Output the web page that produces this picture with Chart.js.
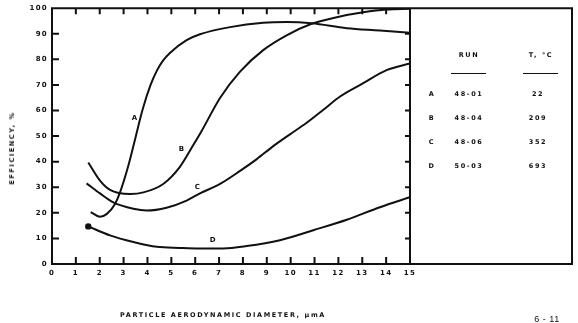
<!DOCTYPE html>
<html>
<head>
<meta charset="utf-8">
<script src="https://cdn.jsdelivr.net/npm/chart.js@4.4.1/dist/chart.umd.min.js"></script>
<style>
  body { margin: 0; background: #fff; }
  #wrap { position: relative; width: 578px; height: 323px; font-family: "DejaVu Sans", sans-serif; font-weight: bold; color: #111; }
  #wrap canvas { position: absolute; left: 0; top: 0; }
  .t { position: absolute; font-size: 6.5px; letter-spacing: 1.6px; white-space: nowrap; transform: translate(-50%, -50%); }
  .rule { position: absolute; height: 0; border-top: 1.5px solid #111; }
  #ytitle { transform: translate(-50%, -50%) rotate(-90deg); }
  #page { font-weight: normal; font-family: "Liberation Sans", sans-serif; font-size: 9px; letter-spacing: 0.5px; }
</style>
</head>
<body>
<div id="wrap">
  <canvas id="chart" width="578" height="323"></canvas>
</div>
<script>
// efficiency curves (x = aerodynamic diameter, y = %)
const curveAX = [1.62, 2.01, 2.3, 2.64, 2.85, 3.2, 3.5, 3.8, 4.13, 4.39, 4.65, 4.94, 5.64, 6.2, 7.46, 8.85, 9.84, 10.88, 12.35, 13.74, 15];
const curveAY = [20.3, 18.5, 19.6, 23.5, 28, 38.5, 49.5, 60.5, 70, 75.5, 79.5, 82.5, 87.5, 89.8, 92.6, 94.3, 94.6, 94.1, 92.2, 91.3, 90.4];
const curveBX = [1.52, 2.01, 2.43, 3.27, 3.83, 4.66, 5.36, 5.92, 6.27, 7.04, 7.88, 8.85, 9.83, 10.88, 11.93, 13.04, 14.02, 15];
const curveBY = [39.7, 32.6, 29, 27.4, 28, 31.3, 38, 46.5, 52, 64.9, 75.2, 83.6, 89.4, 93.9, 96.5, 98.4, 99.5, 99.8];
const curveCX = [1.45, 2.01, 2.57, 3.41, 3.97, 4.8, 5.64, 6.2, 7.04, 7.88, 8.58, 9.27, 9.97, 10.67, 11.37, 12.07, 13.04, 14.02, 15];
const curveCY = [31.5, 27.6, 24.1, 21.6, 20.9, 22, 24.8, 27.6, 31.3, 36.4, 41, 46.1, 50.7, 55.2, 60.3, 65.5, 70.7, 75.8, 78.4];
const curveDX = [1.52, 2.43, 3.41, 4.39, 5.36, 6.2, 7.18, 8.15, 9.55, 10.95, 12.35, 13.74, 15];
const curveDY = [14.7, 11.2, 8.6, 6.7, 6.3, 6.1, 6.1, 7, 9.3, 13.2, 17.3, 22.2, 26.1];

// curve tags placed beside each line
const curveNames = ["A", "B", "C", "D"];
const labelX = [3.48, 5.45, 6.12, 6.76];
const labelY = [57, 45, 30, 9.3];

// run table
const runIds = ["48-01", "48-04", "48-06", "50-03"];
const runTemps = ["22", "209", "352", "693"];

const X_MAX = 15;
const Y_MAX = 100;
const INK = "#111";

const wrap = document.getElementById("wrap");
function addText(cls, text, left, top, id) {
  const el = document.createElement("div");
  el.className = "t " + cls;
  if (id) el.id = id;
  el.textContent = text;
  el.style.left = left + "px";
  el.style.top = top + "px";
  wrap.appendChild(el);
  return el;
}
function addRule(left, top, width) {
  const el = document.createElement("div");
  el.className = "rule";
  el.style.left = left + "px";
  el.style.top = top + "px";
  el.style.width = width + "px";
  wrap.appendChild(el);
}

addText("", "EFFICIENCY, %", 12, 148, "ytitle");
addText("", "PARTICLE AERODYNAMIC DIAMETER, \u03bcmA", 223, 315);
addText("", "6 - 11", 547, 319, "page");

addText("", "RUN", 469, 55);
addText("", "T, \u00b0C", 541, 55);
addRule(451, 73, 35);
addRule(523, 73, 35);
curveNames.forEach((n, i) => {
  const top = 94 + i * 24;
  addText("", n, 432, top);
  addText("", runIds[i], 469, top);
  addText("", runTemps[i], 538, top);
});

const toPoints = (xs, ys) => xs.map((v, i) => ({ x: v, y: ys[i] }));
const lineStyle = { borderColor: INK, borderWidth: 2, pointRadius: 0, cubicInterpolationMode: "monotone", fill: false };

const framePlugin = {
  id: "frame",
  beforeDraw(chart) { chart.ctx.letterSpacing = "1.3px"; },
  afterDraw(chart) {
    const { ctx, chartArea: a, scales: { x, y } } = chart;
    ctx.save();
    ctx.strokeStyle = INK;
    ctx.lineWidth = 2;
    ctx.beginPath();
    ctx.rect(a.left, a.top, a.right - a.left, a.bottom - a.top);
    ctx.moveTo(a.right, a.top); ctx.lineTo(572, a.top); ctx.lineTo(572, a.bottom); ctx.lineTo(a.right, a.bottom);
    ctx.stroke();

    // tick marks point into the plot on all four sides
    ctx.beginPath();
    x.ticks.forEach(t => {
      if (t.value <= 0 || t.value >= X_MAX) return;
      const px = x.getPixelForValue(t.value);
      ctx.moveTo(px, a.bottom); ctx.lineTo(px, a.bottom - 7);
      ctx.moveTo(px, a.top); ctx.lineTo(px, a.top + 6);
    });
    y.ticks.forEach(t => {
      if (t.value <= 0 || t.value >= Y_MAX) return;
      const py = y.getPixelForValue(t.value);
      ctx.moveTo(a.left, py); ctx.lineTo(a.left + 7, py);
      ctx.moveTo(a.right, py); ctx.lineTo(a.right - 5, py);
    });
    ctx.stroke();

    ctx.fillStyle = INK;
    ctx.font = "bold 7px 'DejaVu Sans'";
    ctx.textAlign = "center";
    ctx.textBaseline = "middle";
    curveNames.forEach((n, i) => ctx.fillText(n, x.getPixelForValue(labelX[i]), y.getPixelForValue(labelY[i])));
    ctx.restore();
  }
};

new Chart(document.getElementById("chart").getContext("2d"), {
  type: "line",
  data: {
    datasets: [
      { label: "A", data: toPoints(curveAX, curveAY), ...lineStyle },
      { label: "B", data: toPoints(curveBX, curveBY), ...lineStyle },
      { label: "C", data: toPoints(curveCX, curveCY), ...lineStyle },
      { label: "D", data: toPoints(curveDX, curveDY), ...lineStyle,
        pointRadius: c => (c.dataIndex === 0 ? 2.2 : 0), pointBackgroundColor: INK, pointBorderColor: INK },
    ],
  },
  options: {
    responsive: false,
    animation: false,
    layout: { padding: { left: 0, top: 6, right: 168, bottom: 0 } },
    plugins: { legend: { display: false }, tooltip: { enabled: false } },
    scales: {
      x: {
        type: "linear", min: 0, max: X_MAX,
        grid: { display: false, drawTicks: false }, border: { display: false },
        ticks: { stepSize: 1, padding: 5, color: INK, font: { family: "DejaVu Sans", size: 7, weight: "bold" }, maxRotation: 0 },
        afterFit: s => { s.height = 59; },
      },
      y: {
        min: 0, max: Y_MAX,
        grid: { display: false, drawTicks: false }, border: { display: false },
        ticks: { stepSize: 10, padding: 4, color: INK, font: { family: "DejaVu Sans", size: 7, weight: "bold" } },
        afterFit: s => { s.width = 52; },
      },
    },
  },
  plugins: [framePlugin],
});
</script>
</body>
</html>
